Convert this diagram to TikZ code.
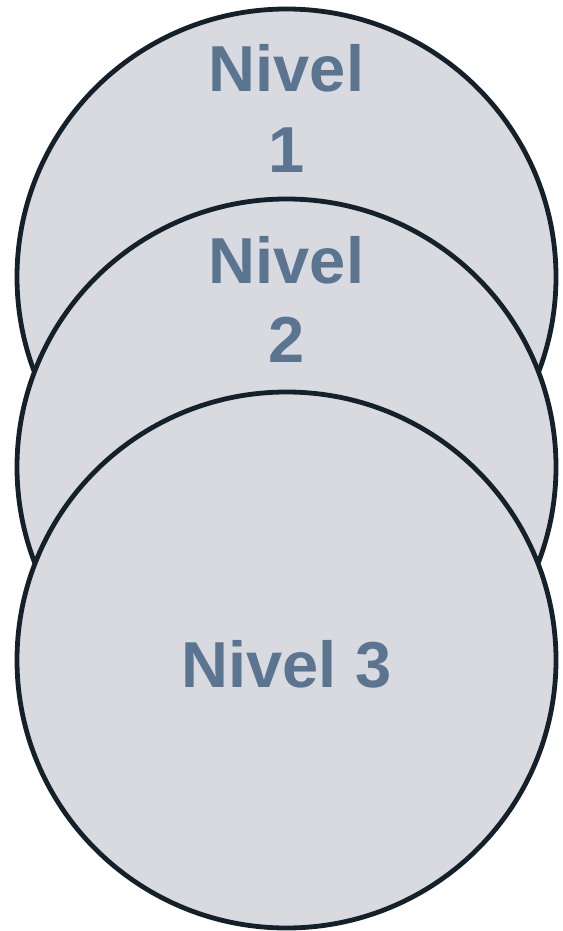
\documentclass[tikz,border=0pt]{standalone}
\usepackage{fontspec}
\setmainfont{Liberation Sans}
\usetikzlibrary{shapes.geometric}
\definecolor{fillc}{HTML}{D9DAE0}
\definecolor{linec}{HTML}{14212B}
\definecolor{textc}{HTML}{5B7590}
\begin{document}
\begin{tikzpicture}[x=1pt,y=-1pt,
  circ/.style={ellipse,draw=linec,fill=fillc,line width=4.8pt,minimum width=539pt,minimum height=536pt,inner sep=0pt},
  lbl/.style={text=textc,font=\bfseries\fontsize{65}{80}\selectfont,align=center,inner sep=0pt}]
\useasboundingbox (0,0) rectangle (562,931);
\node[circ] (c1) at (286.5,277) {};
\node[circ] (c2) at (286.5,467) {};
\node[circ] (c3) at (286.5,660) {};
\node[lbl,anchor=base] (t1a) at (c1.center |- 0,92) {Nivel};
\node[lbl,anchor=base] (t1b) at (c1.center |- 0,172) {1};
\node[lbl,anchor=base] (t2a) at (c2.center |- 0,283) {Nivel};
\node[lbl,anchor=base] (t2b) at (c2.center |- 0,362) {2};
\node[lbl,anchor=base] (t3) at (c3.center |- 0,687) {Nivel 3};
\end{tikzpicture}
\end{document}
